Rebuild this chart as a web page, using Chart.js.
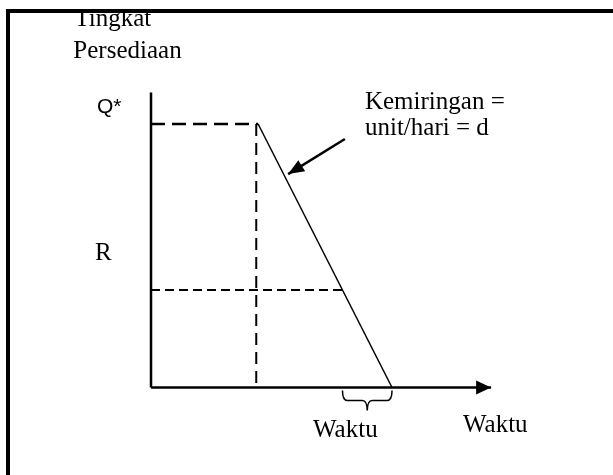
<!DOCTYPE html>
<html>
<head>
<meta charset="utf-8">
<script src="https://cdn.jsdelivr.net/npm/chart.js@4.4.1/dist/chart.umd.min.js"></script>
<style>
  body { margin: 0; background: #fff; }
  #wrap { position: relative; width: 613px; height: 475px; overflow: hidden; }
  #frame { position: absolute; left: 6px; top: 9px; width: 700px; height: 600px;
           border-left: 4px solid #000; border-top: 4px solid #000; pointer-events: none; }
</style>
</head>
<body>
<div id="wrap">
  <canvas id="chart" width="613" height="475"></canvas>
  <div id="frame"></div>
</div>
<script>
// inventory cycle (time in arbitrary units, stock with Q* = 100)
const cycleTime = [40, 90]        // order arrives, stock runs out
const cycleStock = [100, 0]
const levelNames = ['Q*', 'R']
const levelValues = [100, 37]
const leadTime = [71.5, 90]       // from reorder point to stockout
const axisEnd = [127, 112]        // end of time axis, top of stock axis
const slopeArrowX = [72.4, 51.2]
const slopeArrowY = [94.3, 81]

const serif = "25px 'Liberation Serif', 'Times New Roman', serif"
const sans = "21px 'Liberation Sans', Arial, sans-serif"

const texts = [
    { text: 'Tingkat', x: -28.6, y: 137.3, font: serif },
    { text: 'Persediaan', x: -29.0, y: 125.2, font: serif },
    { text: levelNames[0], x: -20.2, y: 104.2, font: sans },
    { text: levelNames[1], x: -20.9, y: 48.4, font: serif },
    { text: 'Kemiringan =', x: 79.9, y: 105.7, font: serif },
    { text: 'unit/hari = d', x: 79.9, y: 95.8, font: serif },
    { text: 'Waktu', x: 60.5, y: -18.8, font: serif },
    { text: 'Waktu', x: 116.5, y: -16.9, font: serif },
]

function line(points, width, dash, arrow) {
    return {
        data: points,
        showLine: true,
        borderColor: '#000',
        borderWidth: width,
        borderDash: dash || [],
        pointRadius: 0,
        pointHoverRadius: 0,
        fill: false,
        tension: 0,
        arrow: arrow || null,
    }
}

const datasets = [
    line([{ x: 0, y: 0 }, { x: 0, y: axisEnd[1] }], 2.5),
    line([{ x: 0, y: 0 }, { x: axisEnd[0], y: 0 }], 2.5, null, { len: 15, half: 7 }),
    line([{ x: cycleTime[0], y: cycleStock[0] }, { x: cycleTime[1], y: cycleStock[1] }], 1.5),
    line([{ x: 0, y: levelValues[0] }, { x: cycleTime[0], y: levelValues[0] }], 2.5, [14, 7]),
    line([{ x: cycleTime[0] - 0.7, y: levelValues[0] }, { x: cycleTime[0] - 0.7, y: 0 }], 2, [12, 7]),
    line([{ x: 0, y: levelValues[1] }, { x: leadTime[0], y: levelValues[1] }], 2, [9, 5]),
    line([{ x: slopeArrowX[0], y: slopeArrowY[0] }, { x: slopeArrowX[1], y: slopeArrowY[1] }], 2.5, null, { len: 16, half: 6.5 }),
]

const extras = {
    id: 'extras',
    afterDatasetsDraw(chart) {
        const ctx = chart.ctx
        const xs = chart.scales.x
        const ys = chart.scales.y
        ctx.save()
        ctx.fillStyle = '#000'
        ctx.strokeStyle = '#000'

        // arrow heads
        chart.data.datasets.forEach((ds, i) => {
            if (!ds.arrow) return
            const pts = chart.getDatasetMeta(i).data
            const a = pts[pts.length - 2], b = pts[pts.length - 1]
            const ang = Math.atan2(b.y - a.y, b.x - a.x)
            const bx = b.x - ds.arrow.len * Math.cos(ang)
            const by = b.y - ds.arrow.len * Math.sin(ang)
            ctx.beginPath()
            ctx.moveTo(b.x, b.y)
            ctx.lineTo(bx + ds.arrow.half * Math.sin(ang), by - ds.arrow.half * Math.cos(ang))
            ctx.lineTo(bx - ds.arrow.half * Math.sin(ang), by + ds.arrow.half * Math.cos(ang))
            ctx.closePath()
            ctx.fill()
        })

        // brace under the lead time
        const x0 = xs.getPixelForValue(leadTime[0])
        const x1 = xs.getPixelForValue(leadTime[1])
        const y0 = ys.getPixelForValue(0) + 3
        const xm = (x0 + x1) / 2
        const h = 20
        ctx.lineWidth = 1.5
        ctx.beginPath()
        ctx.moveTo(x0, y0)
        ctx.quadraticCurveTo(x0, y0 + h / 2, x0 + 5, y0 + h / 2)
        ctx.lineTo(xm - 5, y0 + h / 2)
        ctx.quadraticCurveTo(xm, y0 + h / 2, xm, y0 + h)
        ctx.quadraticCurveTo(xm, y0 + h / 2, xm + 5, y0 + h / 2)
        ctx.lineTo(x1 - 5, y0 + h / 2)
        ctx.quadraticCurveTo(x1, y0 + h / 2, x1, y0)
        ctx.stroke()

        // texts
        ctx.textAlign = 'left'
        ctx.textBaseline = 'alphabetic'
        texts.forEach(t => {
            ctx.font = t.font
            ctx.fillText(t.text, xs.getPixelForValue(t.x), ys.getPixelForValue(t.y))
        })
        ctx.restore()
    }
}

new Chart(document.getElementById('chart').getContext('2d'), {
    type: 'scatter',
    data: { datasets: datasets },
    options: {
        responsive: false,
        devicePixelRatio: 1,
        animation: false,
        layout: { padding: 0 },
        plugins: { legend: { display: false }, tooltip: { enabled: false } },
        scales: {
            x: { type: 'linear', min: -56.39, max: 172.52, display: false },
            y: { type: 'linear', min: -33.21, max: 147.06, display: false },
        },
    },
    plugins: [extras],
})
</script>
</body>
</html>
